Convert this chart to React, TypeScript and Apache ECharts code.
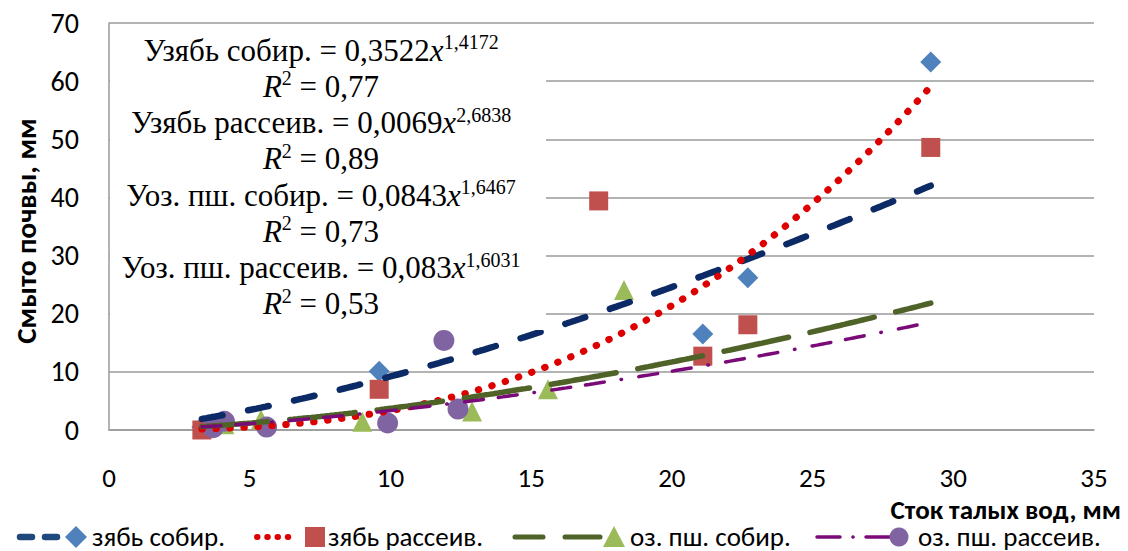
import React, { useEffect, useRef } from "react";
import * as echarts from "echarts";

// ---- data ----
const blueX = [3.3, 9.6, 21.1, 22.7, 29.2];
const blueY = [0.5, 10.1, 16.5, 26.2, 63.3];
const redX = [3.3, 9.6, 17.4, 21.1, 22.7, 29.2];
const redY = [0.0, 7.0, 39.4, 12.7, 18.1, 48.6];
const greenX = [4.1, 5.4, 9.0, 12.9, 15.6, 18.3];
const greenY = [1.0, 1.8, 1.4, 3.2, 7.0, 24.1];
const purpleX = [3.7, 4.1, 5.6, 9.9, 11.9, 12.4];
const purpleY = [0.4, 1.5, 0.5, 1.2, 15.4, 3.6];

const seriesNames = ["зябь собир.", "зябь рассеив.", "оз. пш. собир.", "оз. пш. рассеив."];

// power trend lines y = a * x^b, as printed on the chart
const trendA = [0.3522, 0.0069, 0.0843, 0.083];
const trendB = [1.4172, 2.6838, 1.6467, 1.6031];
const trendFrom = [3.3, 3.3, 3.3, 3.3];
const trendTo = [29.2, 29.2, 29.2, 29.2];

const eqLines = [
  ["Узябь собир. = 0,3522", "1,4172", "0,77"],
  ["Узябь рассеив. = 0,0069", "2,6838", "0,89"],
  ["Уоз. пш. собир. = 0,0843", "1,6467", "0,73"],
  ["Уоз. пш. рассеив. = 0,083", "1,6031", "0,53"],
];

const xTitle = "Сток талых вод, мм";
const yTitle = "Смыто почвы, мм";

const SANS = "Carlito, Calibri, Lato, 'Open Sans', sans-serif";
const SERIF = "'Liberation Serif', 'Times New Roman', 'DejaVu Serif', serif";

function trend(i: number) {
  const pts: number[][] = [];
  const n = 160;
  for (let k = 0; k <= n; k++) {
    const x = trendFrom[i] + ((trendTo[i] - trendFrom[i]) * k) / n;
    pts.push([x, trendA[i] * Math.pow(x, trendB[i])]);
  }
  return pts;
}

const zip = (xs: number[], ys: number[]) => xs.map((x, i) => [x, ys[i]]);

export default function App() {
  const ref = useRef<HTMLDivElement>(null);
  useEffect(() => {
    if (!ref.current) return;
    const chart = echarts.init(ref.current, undefined, { renderer: "svg" });

    const markerColors = ["#4F81BD", "#C0504D", "#9BBB59", "#8064A2"];
    const symbols = ["diamond", "rect", "triangle", "circle"];
    const symSizes = [21, 19, 20, 21];
    const scatterData = [zip(blueX, blueY), zip(redX, redY), zip(greenX, greenY), zip(purpleX, purpleY)];

    const lineColors = ["#0b2a66", "#dd0000", "#4F6228", "#7a0a78"];
    const lineWidths = [6.5, 7, 5.5, 3.5];
    const lineTypes: any[] = [
      [21, 26],
      [0.5, 13.5],
      [66, 22],
      [19, 15, 19, 17, 0.5, 17.5],
    ];

    const series: any[] = [];
    for (let i = 0; i < 4; i++) {
      series.push({
        type: "scatter",
        name: seriesNames[i],
        data: scatterData[i],
        symbol: symbols[i],
        symbolSize: symSizes[i],
        itemStyle: { color: markerColors[i], opacity: 1 },
        z: 2,
        silent: true,
      });
    }
    for (let i = 0; i < 4; i++) {
      series.push({
        type: "line",
        name: "trend " + seriesNames[i],
        data: trend(i),
        showSymbol: false,
        symbol: "none",
        smooth: false,
        lineStyle: { color: lineColors[i], width: lineWidths[i], type: lineTypes[i], cap: "round" },
        z: 3,
        silent: true,
      });
    }

    // text box with equations
    const eqRich = {
      a: { fontFamily: SERIF, fontSize: 31, fill: "#000", lineHeight: 36 },
      i: { fontFamily: SERIF, fontSize: 31, fontStyle: "italic", fill: "#000", lineHeight: 36 },
      s: { fontFamily: SERIF, fontSize: 20, fill: "#000", verticalAlign: "top", lineHeight: 36, padding: [0, 0, 14, 0] },
    };
    const cx = 321;
    const eqTexts: any[] = [];
    eqLines.forEach((l, k) => {
      const y1 = 50 + k * 72.5;
      eqTexts.push({
        type: "text",
        x: cx,
        y: y1,
        z: 101,
        style: {
          text: `{a|${l[0]}}{i|x}{s|${l[1]}}`,
          rich: eqRich,
          align: "center",
          verticalAlign: "middle",
        },
      });
      eqTexts.push({
        type: "text",
        x: cx,
        y: y1 + 36,
        z: 101,
        style: {
          text: `{i|R}{s|2}{a| = ${l[2]}}`,
          rich: eqRich,
          align: "center",
          verticalAlign: "middle",
        },
      });
    });

    // legend
    const ly = 537;
    const ty = 536;
    const lf = `27px ${SANS}`;
    const legendEls: any[] = [
      // item 1
      { type: "line", z: 101, shape: { x1: 20, y1: ly, x2: 58, y2: ly }, style: { stroke: "#1F497D", lineWidth: 6.5, lineCap: "round", lineDash: [12, 13] } },
      { type: "polygon", z: 102, shape: { points: [[76, ly - 11], [87, ly], [76, ly + 11], [65, ly]] }, style: { fill: markerColors[0] } },
      { type: "text", z: 101, x: 92, y: ty, style: { text: seriesNames[0], font: lf, fill: "#000", verticalAlign: "middle" } },
      // item 2
      { type: "line", z: 101, shape: { x1: 257, y1: ly, x2: 298, y2: ly }, style: { stroke: "#dd0000", lineWidth: 6, lineCap: "round", lineDash: [0.5, 9.75] } },
      { type: "rect", z: 102, shape: { x: 305, y: ly - 10, width: 20, height: 20 }, style: { fill: markerColors[1] } },
      { type: "text", z: 101, x: 328, y: ty, style: { text: seriesNames[1], font: lf, fill: "#000", verticalAlign: "middle" } },
      // item 3
      { type: "line", z: 101, shape: { x1: 515, y1: ly, x2: 543, y2: ly }, style: { stroke: "#4F6228", lineWidth: 5, lineCap: "round" } },
      { type: "line", z: 101, shape: { x1: 565, y1: ly, x2: 600, y2: ly }, style: { stroke: "#4F6228", lineWidth: 5, lineCap: "round" } },
      { type: "polygon", z: 102, shape: { points: [[614, ly - 11], [625, ly + 10], [603, ly + 10]] }, style: { fill: markerColors[2] } },
      { type: "text", z: 101, x: 630, y: ty, style: { text: seriesNames[2], font: lf, fill: "#000", verticalAlign: "middle" } },
      // item 4
      { type: "line", z: 101, shape: { x1: 817, y1: ly, x2: 840, y2: ly }, style: { stroke: "#7a0a78", lineWidth: 3.5, lineCap: "round" } },
      { type: "circle", z: 101, shape: { cx: 853, cy: ly, r: 1.8 }, style: { fill: "#7a0a78" } },
      { type: "line", z: 101, shape: { x1: 866, y1: ly, x2: 892, y2: ly }, style: { stroke: "#7a0a78", lineWidth: 3.5, lineCap: "round" } },
      { type: "circle", z: 102, shape: { cx: 899, cy: ly, r: 9.5 }, style: { fill: markerColors[3] } },
      { type: "text", z: 101, x: 918, y: ty, style: { text: seriesNames[3], font: lf, fill: "#000", verticalAlign: "middle" } },
    ];

    const option: any = {
      animation: false,
      backgroundColor: "#fff",
      grid: { left: 109, right: 34, top: 23, bottom: 121, containLabel: false },
      xAxis: {
        type: "value",
        min: 0,
        max: 35,
        interval: 5,
        axisLine: { show: true, lineStyle: { color: "#9a9a9a", width: 1.5 } },
        axisTick: { show: false },
        splitLine: { show: false },
        axisLabel: { fontFamily: SANS, fontSize: 27, color: "#000", margin: 34 },
      },
      yAxis: {
        type: "value",
        min: 0,
        max: 70,
        interval: 10,
        axisLine: { show: true, lineStyle: { color: "#9a9a9a", width: 1.5 } },
        axisTick: { show: false },
        splitLine: { show: true, lineStyle: { color: "#9a9a9a", width: 1.5 } },
        axisLabel: { fontFamily: SANS, fontSize: 28, color: "#000", margin: 30 },
      },
      series,
      graphic: [
        { type: "rect", z: 100, shape: { x: 110, y: 27, width: 436, height: 303 }, style: { fill: "#fff" } },
        ...eqTexts,
        {
          type: "text",
          z: 101,
          x: 1121,
          y: 509,
          style: { text: xTitle, font: `bold 27px ${SANS}`, fill: "#000", align: "right", verticalAlign: "middle" },
        },
        {
          type: "text",
          z: 101,
          x: 26,
          y: 231,
          rotation: Math.PI / 2,
          style: { text: yTitle, font: `bold 29px ${SANS}`, fill: "#000", align: "center", verticalAlign: "middle" },
        },
        ...legendEls,
      ],
    };
    chart.setOption(option);
    return () => chart.dispose();
  }, []);
  return <div ref={ref} style={{ position: "fixed", left: 0, top: 0, width: 1128, height: 551 }} />;
}
